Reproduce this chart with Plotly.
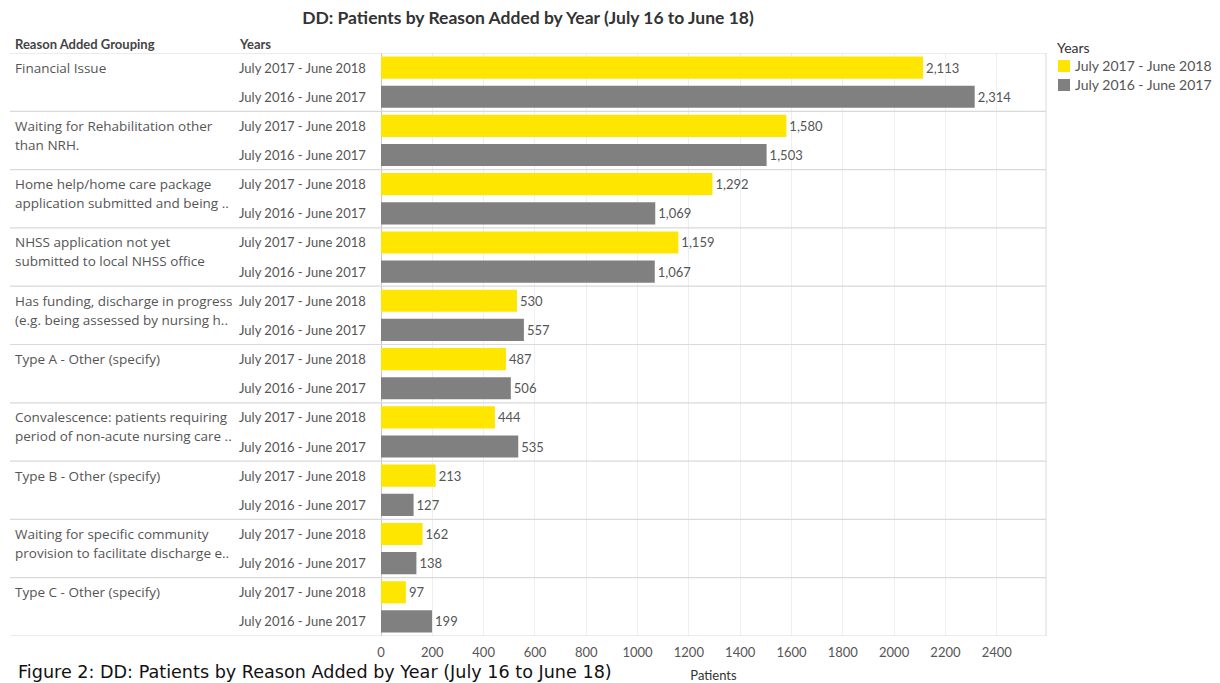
import plotly.graph_objects as go

# Data
groups = [
    "Financial Issue",
    "Waiting for Rehabilitation other<br>than NRH.",
    "Home help/home care package<br>application submitted and being ..",
    "NHSS application not yet<br>submitted to local NHSS office",
    "Has funding, discharge in progress<br>(e.g. being assessed by nursing h..",
    "Type A - Other (specify)",
    "Convalescence: patients requiring<br>period of non-acute nursing care ..",
    "Type B - Other (specify)",
    "Waiting for specific community<br>provision to facilitate discharge e..",
    "Type C - Other (specify)",
]
years = ["July 2017 - June 2018", "July 2016 - June 2017"]
patients_1718 = [2113, 1580, 1292, 1159, 530, 487, 444, 213, 162, 97]
patients_1617 = [2314, 1503, 1069, 1067, 557, 506, 535, 127, 138, 199]
x_ticks = [0, 200, 400, 600, 800, 1000, 1200, 1400, 1600, 1800, 2000, 2200, 2400]

W, H = 1220, 683
ML, MR, MT, MB = 381, 174, 53, 47
PW = W - ML - MR
PH = H - MT - MB

FONT = "Lato"
FONT2 = "Open Sans"
TXT = "#555555"
YELLOW = "#FFE600"
GREY = "#808080"
LINE = "#d9d9d9"
series_colors = [YELLOW, GREY]


def px_to_paper(px):
    return (px - ML) / PW


def py_to_paper(py):
    return (H - MB - py) / PH


n = len(groups)
rows_1718 = [2 * i for i in range(n)]
rows_1617 = [2 * i + 1 for i in range(n)]

fig = go.Figure()
for name, rows, vals, col in [(years[0], rows_1718, patients_1718, YELLOW),
                              (years[1], rows_1617, patients_1617, GREY)]:
    fig.add_trace(go.Bar(
        name=name, orientation="h", y=rows, x=vals, showlegend=False,
        marker=dict(color=col, line=dict(width=0)), width=0.76,
        texttemplate="%{x:,}", textposition="outside", cliponaxis=False,
        textfont=dict(family=FONT, size=13, color=TXT),
    ))

shapes = []
x_left = px_to_paper(10)
# group separators and outer borders
for b in range(n + 1):
    yb = 2 * b - 0.5
    shapes.append(dict(type="line", xref="paper", yref="y", x0=x_left, x1=1,
                       y0=yb, y1=yb, line=dict(color=LINE, width=1.2)))
shapes.append(dict(type="line", xref="paper", yref="paper", x0=1, x1=1,
                   y0=0, y1=1, line=dict(color=LINE, width=1)))

annotations = []
for i, g in enumerate(groups):
    for k, line in enumerate(g.split("<br>")):
        annotations.append(dict(
            x=px_to_paper(13), y=2 * i, xref="paper", yref="y",
            text=line, showarrow=False, xanchor="left", yanchor="middle", align="left",
            yshift=-19 * k, font=dict(family=FONT2, size=13.5, color=TXT),
        ))
    for j, yr in enumerate(years):
        annotations.append(dict(
            x=px_to_paper(237), y=2 * i + j, xref="paper", yref="y",
            text=yr, showarrow=False, xanchor="left", yanchor="middle",
            font=dict(family=FONT, size=13, color=TXT),
        ))

# column headers
annotations.append(dict(x=px_to_paper(13), y=1, xref="paper", yref="paper",
                        text="<b>Reason Added Grouping</b>", showarrow=False,
                        xanchor="left", yanchor="middle", yshift=9,
                        font=dict(family=FONT, size=13, color="#444444")))
annotations.append(dict(x=px_to_paper(237), y=1, xref="paper", yref="paper",
                        text="<b>Years</b>", showarrow=False,
                        xanchor="left", yanchor="middle", yshift=9,
                        font=dict(family=FONT, size=13, color="#444444")))

# legend (colour key for the two year series)
annotations.append(dict(x=px_to_paper(1055), y=py_to_paper(47), xref="paper", yref="paper",
                        text="Years", showarrow=False, xanchor="left", yanchor="middle",
                        font=dict(family=FONT, size=14, color="#333333")))
for j, (yr, col) in enumerate(zip(years, series_colors)):
    cy = 66 + 19 * j
    shapes.append(dict(type="rect", xref="paper", yref="paper",
                       x0=px_to_paper(1058), x1=px_to_paper(1070),
                       y0=py_to_paper(cy + 6), y1=py_to_paper(cy - 6),
                       fillcolor=col, line=dict(width=0)))
    annotations.append(dict(x=px_to_paper(1073), y=py_to_paper(cy), xref="paper", yref="paper",
                            text=yr, showarrow=False, xanchor="left", yanchor="middle",
                            font=dict(family=FONT, size=14, color=TXT)))

# figure caption
annotations.append(dict(x=px_to_paper(16), y=0, xref="paper", yref="paper",
                        text="Figure 2: DD: Patients by Reason Added by Year (July 16 to June 18)",
                        showarrow=False, xanchor="left", yanchor="bottom", yshift=-48,
                        font=dict(family="DejaVu Sans", size=17.6, color="#111111")))

fig.update_layout(
    width=W, height=H,
    margin=dict(l=ML, r=MR, t=MT, b=MB),
    paper_bgcolor="white", plot_bgcolor="white",
    title=dict(text="<b>DD: Patients by Reason Added by Year (July 16 to June 18)</b>",
               x=528 / W, xanchor="center", y=1 - 18 / H, yanchor="middle",
               font=dict(family=FONT, size=17.5, color="#333333")),
    barmode="overlay",
    showlegend=False,
    xaxis=dict(range=[0, 2592], tickvals=x_ticks, showgrid=True, gridcolor="#efefef",
               zeroline=True, zerolinecolor="#c8c8c8", zerolinewidth=1, automargin=False,
               tickfont=dict(family=FONT, size=13, color=TXT),
               ticks="outside", ticklen=4, tickcolor="rgba(0,0,0,0)",
               title=dict(text="Patients", standoff=12,
                          font=dict(family=FONT, size=13, color="#333333"))),
    yaxis=dict(range=[2 * n - 0.5, -0.5], showticklabels=False, showgrid=False,
               zeroline=False, ticks="", automargin=False),
    shapes=shapes,
    annotations=annotations,
)

fig.write_html("out.html")
